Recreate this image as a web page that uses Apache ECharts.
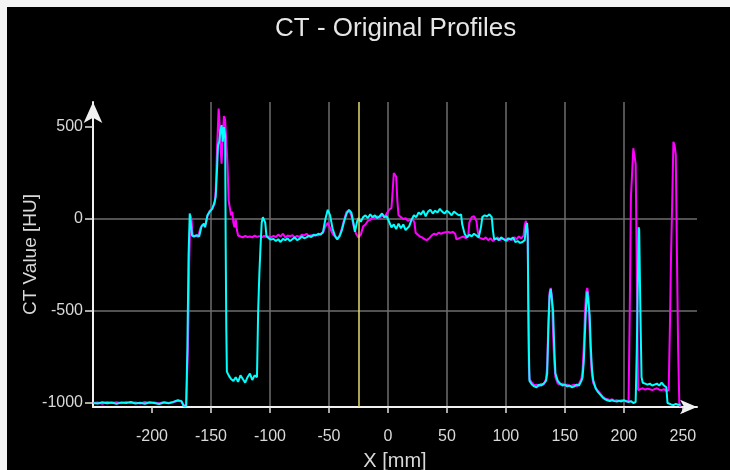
<!DOCTYPE html>
<html>
<head>
<meta charset="utf-8">
<script src="https://cdn.jsdelivr.net/npm/echarts@6/dist/echarts.min.js"></script>
<style>
  html, body { margin: 0; padding: 0; background: #000; }
  #chart { width: 730px; height: 470px; }
</style>
</head>
<body>
<div id="chart"></div>
<script>
// CT line profiles across the phantom (X position in mm, CT value in HU)
const xMagenta = [
  -250,-246,-242,-238,-234,-230,-226,-222,-218,-214,-210,-206,-202,-198,-194,-190,-186,-182,-178,-175,-173,-171,
  -169.5,-168.5,-167.5,-166.5,-165.5,-163,-161,-159,-157,-155,-153,-151,-149,-147,-146,-145,-144,-143.5,-143,-142,-141,-140,-139,-138,-137,
  -136,-135,-134,-133,-132,-131,-130,-129,-128,-127,-125,-123,-121,-119,-117,-115,-113,-111,-109,-107,-105,-103,-101,-99,-97,-95,-93,-91,
  -89,-87,-85,-83,-81,-79,-77,-75,-73,-71,-69,-67,-65,-63,-61,-59,-57,-55,-53,-51,-49,-47,-45,-43,-41,-39,-37,-35,-33,-31,-29,-27,-25,
  -23,-21,-19,-17,-15,-13,-11,-9,-7,-5,-3,-1,1,3,4,5,6,7,8,9,11,13,15,17,19,21,22.5,23.5,25,27,29,31,33,35,37,39,41,43,45,47,49,51,53,55,57,
  58,60,62,64,66,68,69,71,73,75,76,77,79,81,83,85,87,89,91,93,95,97,99,101,103,105,107,109,111,113,115,116,117,118,118.5,119,119.5,120,
  122,124,126,128,130,132,134,135,136,137,138,139,140,141,142,144,146,148,150,152,154,156,158,160,162,164,165,166,167,168,169,170,171,172,
  173,174,176,178,180,182,184,186,188,190,192,194,196,198,200,202,204,205,206,207,208,209,210,211,212,214,216,218,220,222,224,226,228,230,
  232,234,236,238,239,240,241,242,243,244,245,246,247,248
];
const yMagenta = [
  -1000,-998,-1004,-995,-1000,-996,-1002,-994,-1000,-997,-1003,-995,-1001,-997,-1003,-994,-1000,-996,-988,-992,-1015,-1010,
  -700,-250,20,0,-95,-90,-98,-50,-30,-40,15,45,55,80,150,350,520,600,560,400,300,450,560,540,550,
  300,100,60,20,40,-20,-45,0,-60,-90,-95,-100,-92,-98,-95,-100,-90,-97,-93,-100,-92,-98,-95,-100,-92,-98,-85,-95,
  -80,-100,-90,-95,-88,-100,-92,-98,-85,-90,-80,-95,-88,-92,-85,-90,-80,-75,-40,-20,-50,-80,-95,-110,-90,-50,0,40,45,20,-40,-80,-100,
  -85,-40,-30,-10,-5,10,5,15,5,20,10,30,50,60,150,250,240,230,100,20,10,0,5,-10,-5,0,-20,-75,-85,-95,-100,-110,-115,-105,-90,-80,-85,-75,-80,-75,-72,-70,-75,-70,-80,
  -110,-105,-100,-95,-105,-95,-20,10,15,-10,-60,-100,-105,-110,-100,-115,-105,-120,-110,-100,-115,-105,-110,-120,-105,-115,-100,-110,-95,-105,-90,-30,-10,-15,-60,-500,-800,-870,
  -890,-905,-900,-910,-895,-900,-870,-800,-560,-400,-375,-420,-620,-780,-860,-895,-900,-895,-905,-900,-910,-905,-900,-910,-895,-870,-820,-700,-520,-400,-375,-420,-600,-760,
  -850,-890,-915,-935,-950,-965,-975,-980,-985,-980,-988,-985,-990,-985,-988,-992,-990,-500,120,250,385,385,300,-300,-930,-925,-920,-928,-922,-925,-930,-925,-920,-928,
  -930,-925,-935,-930,-600,-200,100,420,400,350,-200,-700,-1000,-1020
];

const xCyan = [
  -250,-246,-242,-238,-234,-230,-226,-222,-218,-214,-210,-206,-202,-198,-194,-190,-186,-182,-178,-175,-173,-171,
  -170,-169,-168,-167,-166,-164,-162,-160,-158,-156,-155,-153,-151,-149,-147,-146,-145,-144,-143,-142,-141,-140,-139,-138,
  -137.5,-137,-136.5,-135,-133,-131,-129,-127,-125,-123,-121,-119,-117,-115,-113,-111,-110,-109,-108,-107,-106,-105,-104,-103,
  -101,-99,-97,-95,-93,-91,-89,-87,-85,-83,-81,-79,-77,-75,-73,-71,-69,-67,-65,-63,-61,-59,-57,-55,-53,-51,-49,-47,-45,-43,-41,-39,
  -37,-35,-33,-31,-29,-28,-27,-26,-25,-23,-21,-19,-17,-15,-13,-11,-9,-7,-5,-3,-1,1,3,5,7,9,11,13,15,16,18,20,22,24,26,28,30,32,34,36,
  38,40,42,44,46,48,50,52,54,56,58,60,62,63,65,67,69,71,73,75,77,79,80,82,84,86,88,89,90,92,94,96,98,100,102,104,106,108,110,112,114,
  116,117,118,118.5,119,119.5,120,122,124,126,128,130,132,134,135,136,137,138,139,140,141,142,144,146,148,150,152,154,156,158,160,162,
  164,165,166,167,168,169,170,171,172,173,174,176,178,180,182,184,186,188,190,192,194,196,198,200,202,204,206,208,210,211,212,212.5,
  213,214,215,216,218,220,222,224,226,228,230,232,234,236,237,238,240,242,244,246,248
];
const yCyan = [
  -1000,-1003,-996,-1002,-998,-1005,-997,-1001,-995,-1003,-999,-1004,-996,-1000,-1006,-998,-1002,-994,-985,-990,-1018,-1015,
  -700,-200,30,25,-90,-95,-88,-95,-40,-25,-45,20,40,55,90,120,250,400,420,480,510,420,500,450,
  -150,-600,-830,-850,-870,-880,-860,-885,-850,-870,-890,-860,-840,-875,-850,-860,-500,-300,-150,-20,10,15,-20,-90,
  -105,-112,-108,-120,-110,-125,-108,-115,-105,-120,-110,-100,-115,-108,-95,-105,-100,-92,-98,-85,-90,-80,-85,-70,0,50,20,-50,-90,-110,-95,-60,
  -10,30,50,35,-30,-70,-60,-10,5,-15,10,20,5,25,10,20,5,15,30,10,15,-15,-45,-30,-55,-25,-50,-30,-60,-70,-40,-5,20,10,35,25,45,15,40,50,
  30,45,35,55,40,30,45,35,20,40,30,20,25,-30,-80,-100,-85,-95,-80,-90,-100,-40,10,20,15,25,10,-60,-110,-105,-115,-100,-110,-118,-105,-112,-100,-125,-120,-130,-125,
  -115,-40,-22,-100,-450,-720,-880,-900,-910,-915,-900,-905,-895,-880,-840,-600,-420,-380,-390,-500,-700,-840,-880,-895,-905,-900,-910,-905,-915,-910,-900,-905,
  -880,-860,-780,-620,-470,-395,-400,-520,-700,-820,-875,-920,-940,-955,-970,-980,-985,-990,-985,-990,-992,-988,-992,-985,-990,-995,-990,-1000,-995,-700,-300,-45,
  -60,-500,-860,-890,-895,-900,-895,-905,-900,-895,-905,-890,-905,-915,-1000,-1010,-1008,-1012,-1005,-1010,-1010
];

// axis ticks and the cursor position
const xTicks = [-200, -150, -100, -50, 0, 50, 100, 150, 200, 250];
const yTicks = [-1000, -500, 0, 500];
const cursorX = -25;

const pairs = (xs, ys) => xs.map((x, i) => [x, ys[i]]);

const chart = echarts.init(document.getElementById('chart'));
const textColor = '#d9d9d9';
const gridColor = '#6e6e6e';
const font = 'Liberation Sans, Arial, sans-serif';

chart.setOption({
  backgroundColor: '#000',
  animation: false,
  title: {
    text: 'CT - Original Profiles',
    left: 270,
    top: 11,
    textStyle: { color: '#e6e6e6', fontSize: 26, fontWeight: 'normal', fontFamily: font }
  },
  graphic: [
    { type: 'rect', left: 0, top: 0, shape: { width: 7, height: 470 }, style: { fill: '#f4f4f4' }, z: 100 },
    { type: 'rect', left: 0, top: 0, shape: { width: 730, height: 7 }, style: { fill: '#f4f4f4' }, z: 100 }
  ],
  grid: { left: 93, right: 33, top: 102, bottom: 63, containLabel: false, outerBoundsMode: 'none' },
  xAxis: {
    type: 'value',
    min: -250,
    max: 262,
    name: 'X [mm]',
    nameLocation: 'middle',
    nameGap: 44,
    nameMoveOverlap: false,
    nameTextStyle: { color: textColor, fontSize: 20, fontFamily: font },
    axisLine: {
      show: true, onZero: false,
      lineStyle: { color: '#f0f0f0', width: 2 },
      symbol: ['none', 'arrow'], symbolSize: [11, 17], symbolOffset: [0, 0]
    },
    axisTick: { show: true, length: 6, customValues: xTicks, lineStyle: { color: '#e0e0e0', width: 1.5 } },
    axisLabel: {
      customValues: xTicks, margin: 22, color: textColor, fontSize: 16, fontFamily: font,
      formatter: v => String(v)
    },
    splitLine: { show: true, showMinLine: false, showMaxLine: false, lineStyle: { color: gridColor, width: 1.5 } }
  },
  yAxis: {
    type: 'value',
    min: -1022,
    max: 636,
    name: 'CT Value [HU]',
    nameLocation: 'middle',
    nameGap: 53,
    nameMoveOverlap: false,
    nameTextStyle: { color: textColor, fontSize: 19, fontFamily: font },
    axisLine: {
      show: true, onZero: false,
      lineStyle: { color: '#f0f0f0', width: 2 },
      symbol: ['none', 'arrow'], symbolSize: [14, 21], symbolOffset: [0, 0]
    },
    axisTick: { show: true, length: 8, customValues: yTicks, lineStyle: { color: '#e0e0e0', width: 1.5 } },
    axisLabel: {
      customValues: yTicks, margin: 10, color: textColor, fontSize: 16, fontFamily: font,
      formatter: v => String(v)
    },
    splitLine: { show: true, showMinLine: false, showMaxLine: false, lineStyle: { color: gridColor, width: 1.5 } }
  },
  series: [
    {
      name: 'Profile 1',
      type: 'line',
      data: pairs(xMagenta, yMagenta),
      showSymbol: false,
      lineStyle: { color: '#ff00ff', width: 2 },
      z: 3,
      markLine: {
        silent: true, symbol: 'none', label: { show: false },
        lineStyle: { color: '#e6dc6a', width: 1.5, type: 'solid' },
        data: [{ xAxis: cursorX }]
      }
    },
    {
      name: 'Profile 2',
      type: 'line',
      data: pairs(xCyan, yCyan),
      showSymbol: false,
      lineStyle: { color: '#00ffff', width: 2 },
      z: 4
    }
  ]
});
</script>
</body>
</html>
